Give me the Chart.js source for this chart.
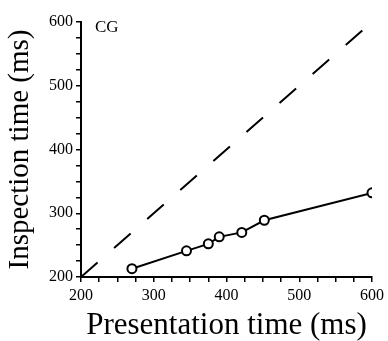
<!DOCTYPE html>
<html>
<head>
<meta charset="utf-8">
<script src="https://cdn.jsdelivr.net/npm/chart.js@4"></script>
<style>
  html, body { margin: 0; padding: 0; background: #fff; }
  #wrap { width: 388px; height: 341px; }
</style>
</head>
<body>
<div id="wrap"><canvas id="itChart" width="388" height="341"></canvas></div>
<script>
// presentation time (ms) vs measured inspection time (ms)
const presentationTimes = [270, 345, 375, 390, 421, 452, 600];
const inspectionTimes = [213, 241, 252, 263, 270, 289, 332];
// identity line: inspection = presentation
const identityLine = [200, 600];
const axisMin = 200;
const axisMax = 600;
const panelLabel = "CG";

const serif = "'Liberation Serif', 'Times New Roman', serif";

const points = presentationTimes.map((x, i) => ({ x, y: inspectionTimes[i] }));
const diagonal = identityLine.map((v) => ({ x: v, y: v }));

const panelText = {
  id: "panelText",
  afterDraw(chart) {
    const { ctx, chartArea } = chart;
    ctx.save();
    ctx.fillStyle = "#000";
    ctx.font = "17px " + serif;
    ctx.textBaseline = "middle";
    ctx.fillText(panelLabel, chartArea.left + 14, chartArea.top + 6);
    ctx.restore();
  },
};

const majorOnly = (v) => (v % 100 === 0 ? v : "");

const axisStyle = (titleText, titleSize) => ({
  type: "linear",
  min: axisMin,
  max: axisMax,
  border: { display: true, color: "#000", width: 2 },
  grid: {
    display: true,
    drawOnChartArea: false,
    drawTicks: true,
    tickLength: 5,
    color: "#000",
    lineWidth: 1.5,
  },
  ticks: {
    stepSize: 25,
    autoSkip: false,
    maxRotation: 0,
    color: "#000",
    font: { family: serif, size: 16 },
    callback: majorOnly,
  },
  title: {
    display: true,
    text: titleText,
    color: "#000",
    font: { family: serif, size: titleSize, lineHeight: 1.0 },
  },
});

const xScale = axisStyle("Presentation time (ms)", 31);
xScale.ticks.padding = 4;
xScale.title.padding = { top: 0, bottom: 0 };
xScale.afterFit = (scale) => {
  scale.height = 64;
};

const yScale = axisStyle("Inspection time (ms)", 29);
yScale.ticks.padding = 3;
yScale.title.padding = { top: 6, bottom: 0 };
yScale.afterFit = (scale) => {
  scale.width = 81;
};

new Chart(document.getElementById("itChart"), {
  type: "scatter",
  data: {
    datasets: [
      {
        label: "identity",
        data: diagonal,
        showLine: true,
        borderColor: "#000",
        borderWidth: 2,
        borderDash: [22, 22],
        pointRadius: 0,
      },
      {
        label: "CG",
        data: points,
        showLine: true,
        borderColor: "#000",
        borderWidth: 2,
        pointRadius: 4.5,
        pointBorderWidth: 2,
        pointBackgroundColor: "#fff",
        pointBorderColor: "#000",
      },
    ],
  },
  options: {
    responsive: false,
    animation: false,
    layout: { padding: { top: 22, right: 12, left: 0, bottom: 0 } },
    plugins: {
      legend: { display: false },
      tooltip: { enabled: false },
    },
    scales: { x: xScale, y: yScale },
  },
  plugins: [panelText],
});
</script>
</body>
</html>
